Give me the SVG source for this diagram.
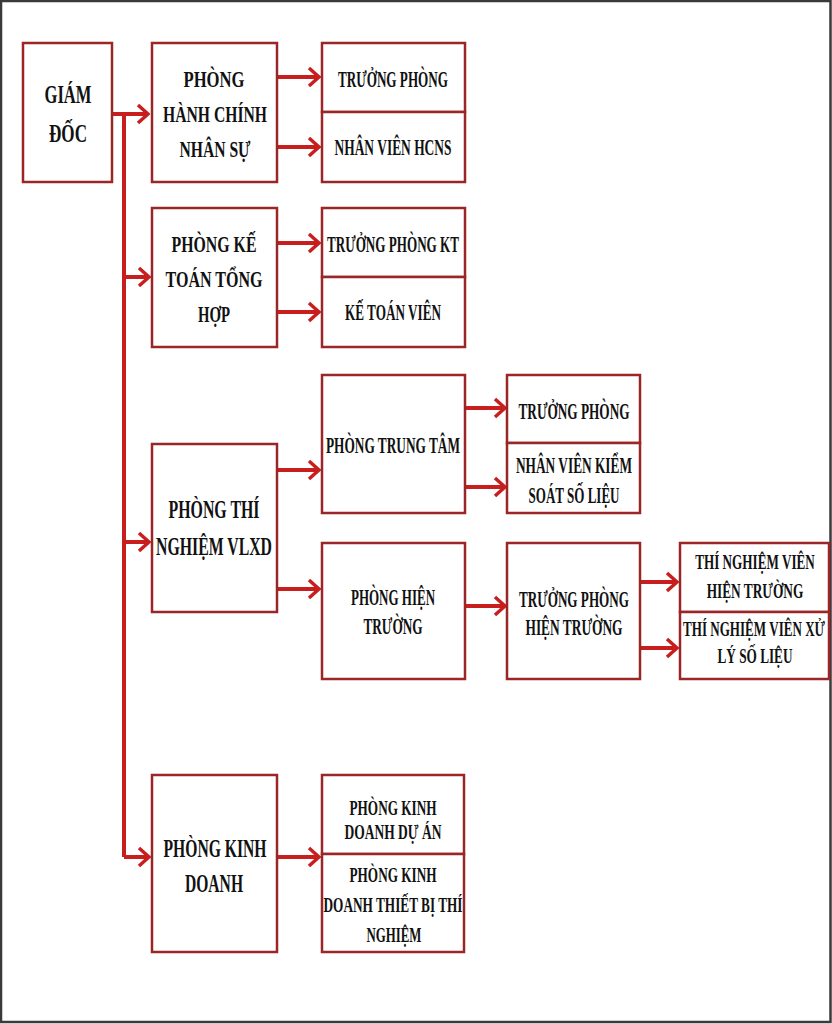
<svg xmlns="http://www.w3.org/2000/svg" width="832" height="1024" viewBox="0 0 832 1024">
<style>
.box{fill:#fff;stroke:#9b2627;stroke-width:2.5}
.t{font-family:"Liberation Serif","Times New Roman",serif;font-weight:bold;fill:#111;text-anchor:middle}
.b{font-size:26px}
.m{font-size:23px}
.s{font-size:21px}
.c{stroke:#c81e1e;stroke-width:4;fill:none}
</style>
<defs>
<marker id="ah" markerUnits="userSpaceOnUse" viewBox="0 0 14 22" markerWidth="14" markerHeight="22" refX="12" refY="11" orient="auto">
<path d="M2,2 L12,11 L2,20" fill="none" stroke="#c81e1e" stroke-width="3.5"/>
</marker>
</defs>
<rect x="0" y="0" width="832" height="1024" fill="#fff"/>
<rect x="1" y="1" width="829.5" height="1021" fill="none" stroke="#3a3a3a" stroke-width="2.5"/>
<g id="connectors">
<path class="c" d="M112,114 H148" marker-end="url(#ah)"/>
<path class="c" d="M124,114 V857"/>
<path class="c" d="M124,277 H149" marker-end="url(#ah)"/>
<path class="c" d="M124,542 H149" marker-end="url(#ah)"/>
<path class="c" d="M124,857 H149" marker-end="url(#ah)"/>
<path class="c" d="M277,77 H319" marker-end="url(#ah)"/>
<path class="c" d="M277,147 H319" marker-end="url(#ah)"/>
<path class="c" d="M277,243 H319" marker-end="url(#ah)"/>
<path class="c" d="M277,312 H319" marker-end="url(#ah)"/>
<path class="c" d="M277,470 H319" marker-end="url(#ah)"/>
<path class="c" d="M277,589 H319" marker-end="url(#ah)"/>
<path class="c" d="M465,408 H505" marker-end="url(#ah)"/>
<path class="c" d="M465,487 H505" marker-end="url(#ah)"/>
<path class="c" d="M465,606 H505" marker-end="url(#ah)"/>
<path class="c" d="M641,582 H677" marker-end="url(#ah)"/>
<path class="c" d="M641,648 H677" marker-end="url(#ah)"/>
<path class="c" d="M277,857 H319" marker-end="url(#ah)"/>
</g>
<g id="giam-doc">
<rect class="box" x="23" y="43" width="89" height="139"/>
<text class="t b" x="68" y="103" textLength="47" lengthAdjust="spacingAndGlyphs">GIÁM</text>
<text class="t b" x="68" y="142" textLength="38" lengthAdjust="spacingAndGlyphs">ĐỐC</text>
</g>
<g id="phong-hcns">
<rect class="box" x="152" y="43" width="125" height="139"/>
<text class="t m" x="214" y="87" textLength="61" lengthAdjust="spacingAndGlyphs">PHÒNG</text>
<text class="t m" x="215" y="122" textLength="104" lengthAdjust="spacingAndGlyphs">HÀNH CHÍNH</text>
<text class="t m" x="215" y="157" textLength="71" lengthAdjust="spacingAndGlyphs">NHÂN SỰ</text>
</g>
<g id="truong-phong-hcns">
<rect class="box" x="322" y="43" width="143" height="69"/>
<text class="t m" x="393" y="87" textLength="110" lengthAdjust="spacingAndGlyphs">TRƯỞNG PHÒNG</text>
</g>
<g id="nhan-vien-hcns">
<rect class="box" x="322" y="112" width="143" height="70"/>
<text class="t m" x="393" y="155" textLength="117" lengthAdjust="spacingAndGlyphs">NHÂN VIÊN HCNS</text>
</g>
<g id="phong-ke-toan">
<rect class="box" x="152" y="208" width="125" height="139"/>
<text class="t m" x="214" y="252" textLength="85" lengthAdjust="spacingAndGlyphs">PHÒNG KẾ</text>
<text class="t m" x="214" y="287" textLength="97" lengthAdjust="spacingAndGlyphs">TOÁN TỔNG</text>
<text class="t m" x="214" y="322" textLength="32" lengthAdjust="spacingAndGlyphs">HỢP</text>
</g>
<g id="truong-phong-kt">
<rect class="box" x="322" y="208" width="143" height="69"/>
<text class="t m" x="393" y="252" textLength="132" lengthAdjust="spacingAndGlyphs">TRƯỞNG PHÒNG KT</text>
</g>
<g id="ke-toan-vien">
<rect class="box" x="322" y="277" width="143" height="70"/>
<text class="t m" x="393" y="320" textLength="96" lengthAdjust="spacingAndGlyphs">KẾ TOÁN VIÊN</text>
</g>
<g id="phong-thi-nghiem">
<rect class="box" x="152" y="444" width="125" height="168"/>
<text class="t b" x="214" y="518" textLength="91" lengthAdjust="spacingAndGlyphs">PHÒNG THÍ</text>
<text class="t b" x="214" y="555" textLength="116" lengthAdjust="spacingAndGlyphs">NGHIỆM VLXD</text>
</g>
<g id="phong-trung-tam">
<rect class="box" x="322" y="375" width="143" height="138"/>
<text class="t m" x="393" y="453" textLength="134" lengthAdjust="spacingAndGlyphs">PHÒNG TRUNG TÂM</text>
</g>
<g id="truong-phong-tt">
<rect class="box" x="507" y="375" width="133" height="68"/>
<text class="t m" x="574" y="419" textLength="111" lengthAdjust="spacingAndGlyphs">TRƯỞNG PHÒNG</text>
</g>
<g id="nhan-vien-kiem-soat">
<rect class="box" x="507" y="443" width="133" height="70"/>
<text class="t m" x="574" y="473" textLength="116" lengthAdjust="spacingAndGlyphs">NHÂN VIÊN KIỂM</text>
<text class="t m" x="574" y="503" textLength="91" lengthAdjust="spacingAndGlyphs">SOÁT SỐ LIỆU</text>
</g>
<g id="phong-hien-truong">
<rect class="box" x="322" y="543" width="143" height="136"/>
<text class="t m" x="393" y="605" textLength="84" lengthAdjust="spacingAndGlyphs">PHÒNG HIỆN</text>
<text class="t m" x="393" y="634" textLength="59" lengthAdjust="spacingAndGlyphs">TRƯỜNG</text>
</g>
<g id="truong-phong-ht">
<rect class="box" x="507" y="543" width="133" height="136"/>
<text class="t m" x="574" y="607" textLength="110" lengthAdjust="spacingAndGlyphs">TRƯỞNG PHÒNG</text>
<text class="t m" x="574" y="635" textLength="97" lengthAdjust="spacingAndGlyphs">HIỆN TRƯỜNG</text>
</g>
<g id="thi-nghiem-vien-ht">
<rect class="box" x="680" y="543" width="149" height="69"/>
<text class="t s" transform="translate(755,569) scale(0.62,1)" x="0" y="0" textLength="193" lengthAdjust="spacingAndGlyphs">THÍ NGHIỆM VIÊN</text>
<text class="t s" transform="translate(755,598) scale(0.62,1)" x="0" y="0" textLength="156" lengthAdjust="spacingAndGlyphs">HIỆN TRƯỜNG</text>
</g>
<g id="thi-nghiem-vien-xl">
<rect class="box" x="680" y="612" width="149" height="67"/>
<text class="t s" transform="translate(754,636) scale(0.62,1)" x="0" y="0" textLength="229" lengthAdjust="spacingAndGlyphs">THÍ NGHIỆM VIÊN XỬ</text>
<text class="t s" transform="translate(755,663) scale(0.62,1)" x="0" y="0" textLength="121" lengthAdjust="spacingAndGlyphs">LÝ SỐ LIỆU</text>
</g>
<g id="phong-kinh-doanh">
<rect class="box" x="152" y="775" width="125" height="177"/>
<text class="t b" x="215" y="857" textLength="103" lengthAdjust="spacingAndGlyphs">PHÒNG KINH</text>
<text class="t b" x="214" y="892" textLength="58" lengthAdjust="spacingAndGlyphs">DOANH</text>
</g>
<g id="kinh-doanh-du-an">
<rect class="box" x="322" y="775" width="142" height="79"/>
<text class="t s" x="393" y="815" textLength="87" lengthAdjust="spacingAndGlyphs">PHÒNG KINH</text>
<text class="t s" x="393" y="839" textLength="97" lengthAdjust="spacingAndGlyphs">DOANH DỰ ÁN</text>
</g>
<g id="kinh-doanh-thiet-bi">
<rect class="box" x="322" y="854" width="142" height="98"/>
<text class="t s" x="393" y="882" textLength="87" lengthAdjust="spacingAndGlyphs">PHÒNG KINH</text>
<text class="t s" x="393" y="912" textLength="139" lengthAdjust="spacingAndGlyphs">DOANH THIẾT BỊ THÍ</text>
<text class="t s" x="394" y="942" textLength="55" lengthAdjust="spacingAndGlyphs">NGHIỆM</text>
</g>
</svg>
